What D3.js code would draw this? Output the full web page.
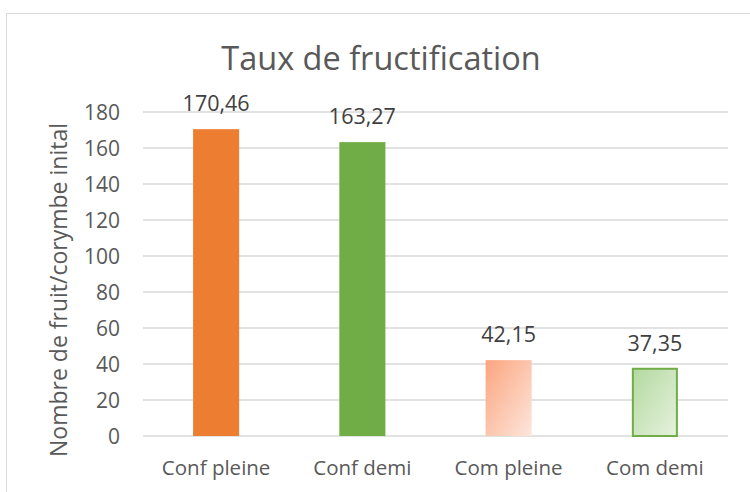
<!DOCTYPE html>
<html><head><meta charset="utf-8">
<script src="https://cdn.jsdelivr.net/npm/d3@7"></script>
<style>body{margin:0;background:#fff}svg{display:block}</style>
</head><body>
<script>
const categories = ["Conf pleine","Conf demi","Com pleine","Com demi"];
const values = [170.46,163.27,42.15,37.35];
const labels = ["170,46","163,27","42,15","37,35"];
const yTicks = [0,20,40,60,80,100,120,140,160,180];
const title = "Taux de fructification";
const yTitle = "Nombre de fruit/corymbe inital";

const W=750,H=492;
const svg=d3.select("body").append("svg").attr("width",W).attr("height",H);
const font="'Open Sans', sans-serif";
const defs=svg.append("defs");
const g1=defs.append("linearGradient").attr("id","gOr").attr("x1","0").attr("y1","0").attr("x2","1").attr("y2","1");
g1.append("stop").attr("offset","0").attr("stop-color","#fba57f");
g1.append("stop").attr("offset","1").attr("stop-color","#fde6dc");
const g2=defs.append("linearGradient").attr("id","gGr").attr("x1","0").attr("y1","0").attr("x2","1").attr("y2","1");
g2.append("stop").attr("offset","0").attr("stop-color","#b3d9a0");
g2.append("stop").attr("offset","1").attr("stop-color","#e6f2de");
const fills=["#ED7D31","#70AD47","url(#gOr)","url(#gGr)"];
const strokes=["none","none","none","#70AD47"];

// frame
svg.append("rect").attr("x",6.5).attr("y",13.5).attr("width",760).attr("height",500)
 .attr("fill","none").attr("stroke","#d9d9d9").attr("stroke-width",1);

const x=d3.scaleBand().domain(categories).range([143,728]).padding(0);
const y=d3.scaleLinear().domain([0,180]).range([436,112]);
const bw=x.bandwidth()*0.315;

svg.append("g").selectAll("line").data(yTicks).join("line")
 .attr("x1",143).attr("x2",728).attr("y1",d=>y(d)).attr("y2",d=>y(d))
 .attr("stroke","#d9d9d9").attr("stroke-width",1.3);

svg.append("g").selectAll("text").data(yTicks).join("text")
 .attr("x",120).attr("y",d=>y(d)+7.5).attr("text-anchor","end")
 .attr("font-family",font).attr("font-size",21).attr("fill","#595959").text(d=>d);

svg.append("g").selectAll("rect").data(values).join("rect")
 .attr("x",(d,i)=>x(categories[i])+x.bandwidth()/2-bw/2+(strokes[i]!=="none"?1:0))
 .attr("y",d=>y(d)).attr("width",(d,i)=>bw-(strokes[i]!=="none"?2:0)).attr("height",d=>y(0)-y(d))
 .attr("fill",(d,i)=>fills[i]).attr("stroke",(d,i)=>strokes[i]).attr("stroke-width",2);

svg.append("g").selectAll("text").data(values).join("text")
 .attr("x",(d,i)=>x(categories[i])+x.bandwidth()/2).attr("y",d=>y(d)-18)
 .attr("text-anchor","middle").attr("font-family",font).attr("font-size",21.5).attr("fill","#404040")
 .text((d,i)=>labels[i]);

svg.append("g").selectAll("text").data(categories).join("text")
 .attr("x",d=>x(d)+x.bandwidth()/2).attr("y",475)
 .attr("text-anchor","middle").attr("font-family",font).attr("font-size",20.5).attr("fill","#595959").text(d=>d);

svg.append("text").attr("x",381).attr("y",70).attr("text-anchor","middle")
 .attr("font-family",font).attr("font-size",32.5).attr("fill","#595959").text(title);

svg.append("text").attr("transform","translate(67,290) rotate(-90)").attr("text-anchor","middle")
 .attr("font-family",font).attr("font-size",23).attr("fill","#595959").text(yTitle);
</script>
</body></html>
